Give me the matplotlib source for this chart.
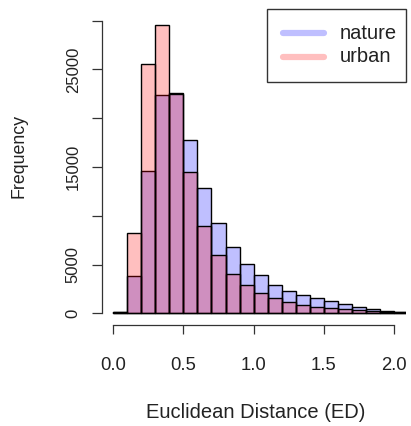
import matplotlib
matplotlib.use("Agg")
import matplotlib.pyplot as plt
import numpy as np
from matplotlib.patches import Rectangle
from matplotlib.lines import Line2D

# ---- data ----
bin_edges = [round(0.1 * i, 1) for i in range(22)]  # 0.0 .. 2.1
nature = [120, 3800, 14600, 22400, 22600, 17800, 12800, 9300, 6800, 5100,
          3900, 2900, 2300, 1850, 1550, 1280, 1000, 680, 400, 250, 130]
urban = [180, 8200, 25600, 29600, 22500, 14500, 9000, 6000, 4000, 2900,
         2100, 1550, 1200, 900, 680, 510, 400, 300, 220, 150, 90]
x_ticks = [0.0, 0.5, 1.0, 1.5, 2.0]
x_tick_labels = ["0.0", "0.5", "1.0", "1.5", "2.0"]
y_ticks = [0, 5000, 10000, 15000, 20000, 25000, 30000]
y_tick_labels = ["0", "5000", "", "15000", "", "25000", ""]
series_names = ["nature", "urban"]

plt.rcParams['font.family'] = ['Liberation Sans', 'DejaVu Sans']

W, H = 411, 426
fig = plt.figure(figsize=(W / 100, H / 100), dpi=100)

def fx(px):
    return px / W

def fy(py):
    return 1 - py / H

left, right, top, bottom = 101.7, 405.6, 9.0, 325.0
ax = fig.add_axes([fx(left), fy(bottom), fx(right) - fx(left), fy(top) - fy(bottom)])
ax.set_xlim(-0.08, 2.08)
ax.set_ylim(-1200, 31200)

col_urban = (1, 0, 0, 0.25)
col_nature = (0, 0, 1, 0.25)
ax.bar(bin_edges[:-1], nature, width=0.1, align='edge', color=col_nature,
       edgecolor='black', linewidth=1.0)
ax.bar(bin_edges[:-1], urban, width=0.1, align='edge', color=col_urban,
       edgecolor='black', linewidth=1.0)

for s in ['top', 'right']:
    ax.spines[s].set_visible(False)
ax.spines['bottom'].set_bounds(0, 2)
ax.spines['left'].set_bounds(0, 30000)
for s in ['bottom', 'left']:
    ax.spines[s].set_color('#333333')
    ax.spines[s].set_linewidth(0.9)

ax.set_xticks(x_ticks)
ax.set_xticklabels(x_tick_labels, fontsize=13.3, color='#222222')
ax.set_yticks(y_ticks)
ax.set_yticklabels(y_tick_labels, fontsize=12, color='#222222', rotation=90,
                   va='center')
ax.tick_params(axis='x', length=6.2, width=0.9, color='#333333', pad=16.5)
ax.tick_params(axis='y', length=7.5, width=0.9, color='#333333', pad=7.5)

fig.text(fx(255.8), fy(412), "Euclidean Distance (ED)", ha='center',
         va='center', fontsize=14.5, color='#222222')
fig.text(fx(19), fy(156), "Frequency", ha='center', va='center',
         rotation=90, fontsize=12.8, color='#222222')

# legend
fig.add_artist(Rectangle((fx(266.7), fy(82)), fx(406) - fx(266.7), fy(9) - fy(82),
                         transform=fig.transFigure, facecolor='white',
                         edgecolor='#333333', linewidth=1.0))
leg_y = [33.3, 56.7]
leg_cols = [col_nature, col_urban]
for name, yy, c in zip(series_names, leg_y, leg_cols):
    fig.add_artist(Line2D([fx(283), fx(324)], [fy(yy), fy(yy)],
                          transform=fig.transFigure, color=c, linewidth=4.5,
                          solid_capstyle='round'))
    fig.text(fx(340), fy(yy), name, ha='left', va='center', fontsize=14.5,
             color='#222222')

fig.savefig("out.png", dpi=100)
